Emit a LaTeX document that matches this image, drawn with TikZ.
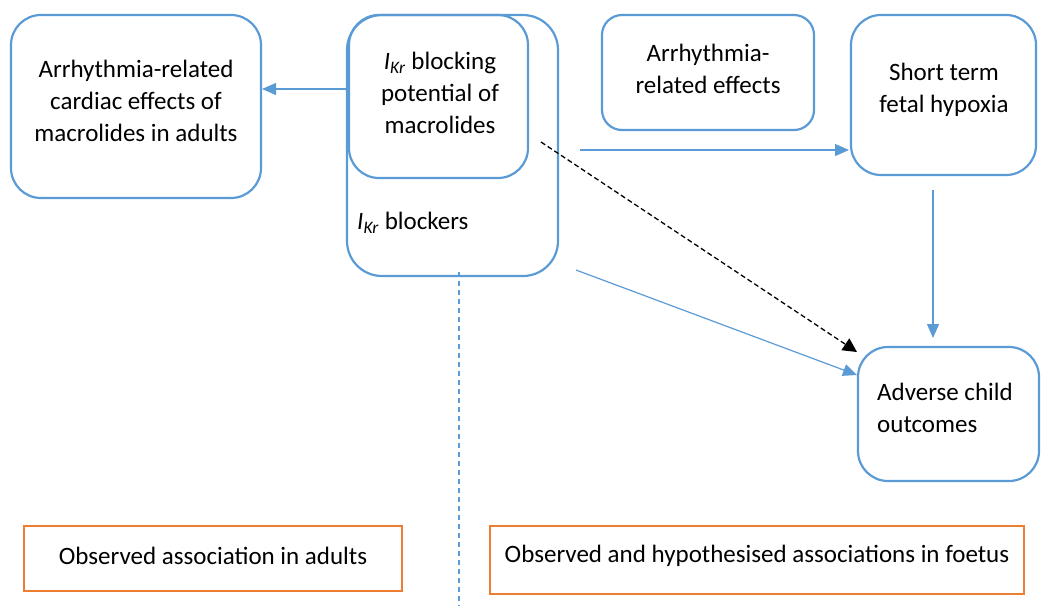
\documentclass[tikz,border=0pt]{standalone}
\usepackage{fontspec}
\setmainfont{Carlito}
\usetikzlibrary{arrows.meta}
\definecolor{bblue}{HTML}{5B9BD5}
\definecolor{oorange}{HTML}{ED7D31}
\newcommand{\ikr}{\textit{I}\textsubscript{\textit{Kr}}}
\tikzset{
  rbox/.style={draw=bblue, line width=2.2pt, rounded corners=#1},
  rbox/.default=30pt,
  obox/.style={draw=oorange, line width=2.2pt},
  txt/.style={font=\fontsize{25}{32}\selectfont, align=center, inner sep=0pt},
  barrow/.style={draw=bblue, line width=1.2pt, -{Triangle[length=14pt,width=12pt]}},
  karrow/.style={draw=black, line width=1.3pt, dashed, dash pattern=on 5pt off 3pt, -{Triangle[length=14pt,width=14pt]}},
}
\begin{document}
\begin{tikzpicture}[x=1pt,y=-1pt]
\useasboundingbox (0,0) rectangle (1041,606);
% boxes
\draw[rbox] (11,15) rectangle (261,198);
\draw[rbox=35pt] (347,15) rectangle (558,276);
\draw[rbox] (349,15) rectangle (528,178);
\draw[rbox=20pt] (602,15) rectangle (814,130);
\draw[rbox] (851,15) rectangle (1036,175);
\draw[rbox] (858,347) rectangle (1039,481);
\draw[obox] (24,526) rectangle (402,591);
\draw[obox] (490,526) rectangle (1024,594);
% texts
\node[txt] (adult) at (136,101) {Arrhythmia-related\\cardiac effects of\\macrolides in adults};
\node[txt] (pot) at (440,93) {\ikr{} blocking\\potential of\\macrolides};
\node[txt, anchor=west] (blk) at (357,223) {\ikr{} blockers};
\node[txt] (arr) at (708,69) {Arrhythmia-\\related effects};
\node[txt] (hyp) at (944,90) {Short term\\fetal hypoxia};
\node[txt, align=left, anchor=west] (out) at (877,408) {Adverse child\\outcomes};
\node[txt] (oa) at (213,556) {Observed association in adults};
\node[txt] (of) at (757,556) {Observed and hypothesised associations in foetus};
% connector endpoints
\coordinate (a1s) at (347,89);
\coordinate (a1e) at (262,89);
\coordinate (a2s) at (580,150);
\coordinate (a2e) at (849,150);
\coordinate (a3s) at (933,190);
\coordinate (a3e) at (933,338);
\coordinate (a4s) at (576,270);
\coordinate (a4e) at (857,375);
\coordinate (a5s) at (541,142);
\coordinate (a5e) at (857,352);
\coordinate (vs) at (459,272);
\coordinate (ve) at (459,606);
\draw[barrow] (a1s) -- (a1e);
\draw[barrow] (a2s) -- (a2e);
\draw[barrow] (a3s) -- (a3e);
\draw[barrow] (a4s) -- (a4e);
\draw[karrow] (a5s) -- (a5e);
\draw[draw=bblue, line width=1.2pt, dash pattern=on 5pt off 4pt] (vs) -- (ve);
\end{tikzpicture}
\end{document}
